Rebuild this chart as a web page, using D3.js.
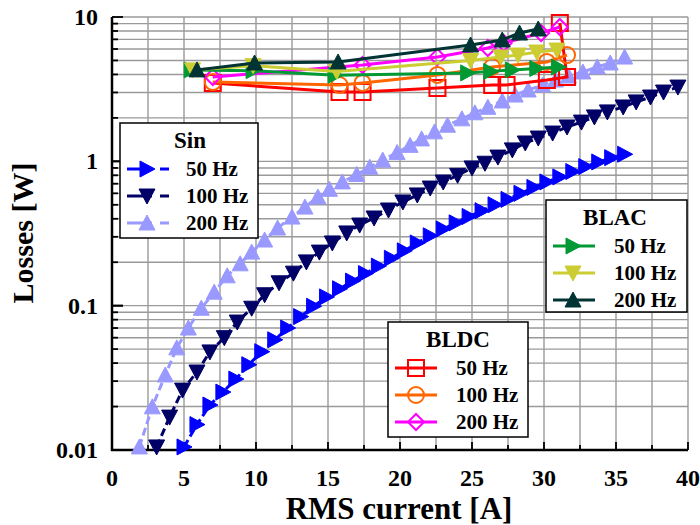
<!DOCTYPE html>
<html>
<head>
<meta charset="utf-8">
<script src="https://cdn.jsdelivr.net/npm/d3@7"></script>
<style>
  body { margin: 0; background: #fff; }
</style>
</head>
<body>
<svg width="700" height="525" font-family="Liberation Serif" font-weight="bold"></svg>
<script>
// Sin supply, [current A, losses W]
const sin50 = [[5.0,0.0105],[5.9,0.0150],[6.8,0.0205],[7.7,0.0252],[8.6,0.031],[9.5,0.039],[10.4,0.048],[11.3,0.058],[12.2,0.070],[13.1,0.084],[14.0,0.099],[14.9,0.115],[15.8,0.131],[16.7,0.148],[17.6,0.167],[18.5,0.188],[19.4,0.213],[20.3,0.240],[21.2,0.272],[22.1,0.305],[23.0,0.340],[23.9,0.375],[24.8,0.415],[25.7,0.455],[26.6,0.50],[27.5,0.545],[28.4,0.60],[29.3,0.66],[30.2,0.72],[31.1,0.78],[32.0,0.85],[32.9,0.92],[33.8,0.99],[34.7,1.06],[35.6,1.12]];
const sin100 = [[3.1,0.0105],[4.0,0.0169],[4.9,0.026],[5.9,0.0347],[6.8,0.0478],[7.8,0.060],[8.7,0.077],[9.7,0.096],[10.6,0.119],[11.6,0.144],[12.6,0.168],[13.5,0.201],[14.4,0.235],[15.3,0.272],[16.3,0.319],[17.2,0.362],[18.2,0.405],[19.2,0.46],[20.2,0.523],[21.2,0.585],[22.1,0.653],[23.0,0.719],[24.0,0.80],[25.0,0.90],[25.9,0.97],[26.8,1.07],[27.8,1.20],[28.7,1.34],[29.6,1.45],[30.6,1.57],[31.6,1.73],[32.6,1.87],[33.5,2.03],[34.4,2.20],[35.5,2.38],[36.4,2.58],[37.4,2.79],[38.3,3.02],[39.3,3.27]];
const sin200 = [[1.9,0.0105],[2.8,0.0199],[3.7,0.0331],[4.5,0.051],[5.3,0.070],[6.2,0.096],[7.1,0.124],[8.0,0.161],[8.9,0.195],[9.7,0.235],[10.6,0.285],[11.5,0.345],[12.5,0.411],[13.4,0.482],[14.3,0.566],[15.1,0.64],[16.0,0.72],[17.0,0.81],[17.9,0.91],[18.8,1.02],[19.8,1.15],[20.7,1.29],[21.5,1.43],[22.4,1.60],[23.3,1.78],[24.3,1.97],[25.2,2.17],[26.1,2.37],[27.1,2.62],[28.0,2.88],[28.9,3.12],[29.9,3.38],[30.8,3.66],[31.7,3.90],[32.7,4.16],[33.7,4.51],[34.6,4.80],[35.6,5.28]];

// BLDC supply
const bldc50 = [[7.0,3.49],[15.8,3.02],[17.4,3.02],[22.6,3.22],[26.4,3.38],[27.4,3.38],[30.2,3.66],[31.6,3.84],[31.1,9.08]];
const bldc100 = [[7.0,3.54],[15.8,3.38],[17.4,3.49],[22.6,3.97],[26.4,4.51],[30.2,4.88],[31.6,5.45]];
const bldc200 = [[7.0,3.84],[17.4,4.65],[22.6,5.28],[26.1,6.1],[27.2,6.6],[29.8,7.74],[31.1,8.53]];

// BLAC supply
const blac50 = [[5.5,4.3],[9.8,4.25],[15.5,3.95],[24.7,4.1],[26.3,4.2],[27.8,4.3],[29.5,4.4],[31.0,4.5]];
const blac100 = [[5.6,4.3],[9.8,4.6],[15.6,4.2],[24.9,5.0],[27.0,5.28],[28.2,5.45],[29.5,5.72],[30.9,5.9]];
const blac200 = [[5.9,4.3],[9.9,4.8],[15.7,4.88],[24.9,6.4],[27.1,6.93],[28.3,7.74],[29.6,8.26]];

const xTicks = [0, 5, 10, 15, 20, 25, 30, 35, 40];
const yTicks = [0.01, 0.1, 1, 10];
const yTickLabels = ['0.01', '0.1', '1', '10'];
const freqLabels = ['50 Hz', '100 Hz', '200 Hz'];

const svg = d3.select('svg');
const x = d3.scaleLinear().domain([0, 40]).range([112, 688]);
const y = d3.scaleLog().domain([0.01, 10]).range([450, 17]);

// grid
const grid = svg.append('g').attr('stroke', '#9a9a9a').attr('stroke-width', 1.4);
d3.range(0, 40.1, 2.5).forEach(v => {
  grid.append('line').attr('x1', x(v)).attr('x2', x(v)).attr('y1', y(10)).attr('y2', y(0.01));
});
[0.01, 0.1, 1].forEach(d => {
  d3.range(1, 10).forEach(m => {
    grid.append('line').attr('x1', x(0)).attr('x2', x(40))
      .attr('y1', y(d * m)).attr('y2', y(d * m));
  });
});
grid.append('line').attr('x1', x(0)).attr('x2', x(40)).attr('y1', y(10)).attr('y2', y(10));

// axes
const ax = svg.append('g').attr('stroke', '#000');
ax.append('line').attr('x1', x(0)).attr('x2', x(0)).attr('y1', y(10)).attr('y2', y(0.01) + 1).attr('stroke-width', 2.5);
ax.append('line').attr('x1', x(0) - 1).attr('x2', x(40)).attr('y1', y(0.01)).attr('y2', y(0.01)).attr('stroke-width', 2.5);
d3.range(0, 40.1, 2.5).forEach(v => {
  const len = v % 5 === 0 ? 8 : 5;
  ax.append('line').attr('x1', x(v)).attr('x2', x(v)).attr('y1', y(0.01)).attr('y2', y(0.01) - len).attr('stroke-width', 1.8);
});
[0.01, 0.1, 1].forEach(d => {
  d3.range(1, 11).forEach(m => {
    const len = (m === 1 || m === 10) ? 11 : 6;
    ax.append('line').attr('x1', x(0)).attr('x2', x(0) + len)
      .attr('y1', y(d * m)).attr('y2', y(d * m)).attr('stroke-width', 1.8);
  });
});

svg.append('g').selectAll('text').data(xTicks).enter().append('text')
  .attr('x', d => x(d)).attr('y', 486).attr('text-anchor', 'middle')
  .attr('font-size', 24).text(d => d);
svg.append('g').selectAll('text').data(yTicks).enter().append('text')
  .attr('x', 98).attr('y', d => y(d) + 8).attr('text-anchor', 'end')
  .attr('font-size', 24).text((d, i) => yTickLabels[i]);

svg.append('text').attr('x', 399).attr('y', 519).attr('text-anchor', 'middle')
  .attr('font-size', 31).text('RMS current [A]');
svg.append('text').attr('transform', 'translate(33,233) rotate(-90)')
  .attr('text-anchor', 'middle').attr('font-size', 30).text('Losses [W]');

// marker shapes
function markerPath(type) {
  switch (type) {
    case 'right': return 'M8,0L-7,-8L-7,8Z';
    case 'down': return 'M0,8L8,-7L-8,-7Z';
    case 'up': return 'M0,-8L8,7L-8,7Z';
    case 'square': return 'M-8,-8H8V8H-8Z';
    case 'circle': return 'M-8,0A8,8 0 1,0 8,0A8,8 0 1,0 -8,0Z';
    case 'diamond': return 'M0,-8L8,0L0,8L-8,0Z';
  }
}

const line = d3.line().x(d => x(d[0])).y(d => y(d[1]));

const series = [
  { data: sin50, color: '#0000ff', shape: 'right', dash: '8,4', filled: true },
  { data: sin100, color: '#000066', shape: 'down', dash: '8,4', filled: true },
  { data: sin200, color: '#9999ff', shape: 'up', dash: '8,4', filled: true },
  { data: bldc50, color: '#ff0000', shape: 'square', filled: false },
  { data: bldc100, color: '#ff6600', shape: 'circle', filled: false },
  { data: bldc200, color: '#ff00ff', shape: 'diamond', filled: false },
  { data: blac50, color: '#009933', shape: 'right', filled: true },
  { data: blac100, color: '#cccc33', shape: 'down', filled: true },
  { data: blac200, color: '#003333', shape: 'up', filled: true },
];

series.forEach(s => {
  const g = svg.append('g');
  g.append('path').attr('d', line(s.data)).attr('fill', 'none')
    .attr('stroke', s.color).attr('stroke-width', 3)
    .attr('stroke-dasharray', s.dash || null);
  g.selectAll('path.m').data(s.data).enter().append('path').attr('class', 'm')
    .attr('transform', d => `translate(${x(d[0])},${y(d[1])})`)
    .attr('d', markerPath(s.shape))
    .attr('fill', s.filled ? s.color : 'none')
    .attr('stroke', s.color).attr('stroke-width', s.filled ? 1 : 2);
});

// legends
function legend(left, top, w, h, title, items, sample) {
  const g = svg.append('g');
  g.append('rect').attr('x', left).attr('y', top).attr('width', w).attr('height', h)
    .attr('fill', '#fff').attr('stroke', '#000').attr('stroke-width', 1.5);
  g.append('text').attr('x', left + sample.titleX).attr('y', top + 25)
    .attr('text-anchor', 'middle').attr('font-size', 23).text(title);
  items.forEach((s, i) => {
    const cy = top + 46 + i * 27;
    g.append('line').attr('x1', left + sample.x1).attr('x2', left + sample.x2)
      .attr('y1', cy).attr('y2', cy).attr('stroke', s.color).attr('stroke-width', 3)
      .attr('stroke-dasharray', sample.dash || null);
    g.append('path').attr('transform', `translate(${left + sample.mx},${cy})`)
      .attr('d', markerPath(s.shape))
      .attr('fill', s.filled ? s.color : 'none')
      .attr('stroke', s.color).attr('stroke-width', s.filled ? 1 : 2);
    g.append('text').attr('x', left + sample.tx).attr('y', cy + 7)
      .attr('font-size', 21).text(freqLabels[i]);
  });
}

legend(120, 123, 138, 115, 'Sin', series.slice(0, 3),
  { titleX: 70, x1: 7, x2: 50, mx: 27, tx: 66, dash: '25,8,9' });
legend(546, 200, 141, 112, 'BLAC', series.slice(6, 9),
  { titleX: 69, x1: 7, x2: 49, mx: 27, tx: 68 });
legend(388, 322, 140, 115, 'BLDC', series.slice(3, 6),
  { titleX: 70, x1: 7, x2: 49, mx: 28, tx: 68 });
</script>
</body>
</html>
